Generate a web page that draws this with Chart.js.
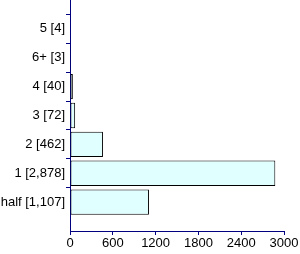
<!DOCTYPE html>
<html>
<head>
<meta charset="utf-8">
<script src="https://cdn.jsdelivr.net/npm/chart.js@4/dist/chart.umd.min.js"></script>
<style>
html,body{margin:0;padding:0;background:#fff;}
#wrap{width:300px;height:254px;}
</style>
</head>
<body>
<div id="wrap"><canvas id="c" width="300" height="254"></canvas></div>
<script>
const categories = ["5 [4]", "6+ [3]", "4 [40]", "3 [72]", "2 [462]", "1 [2,878]", "half [1,107]"];
const values = [4, 3, 40, 72, 462, 2878, 1107];
const xTicks = [0, 600, 1200, 1800, 2400, 3000];

// pad with empty slots so that categories sit one step in from each end
const labels = [""].concat(categories, [""]);
const data = [null].concat(values, [null]);

const navy = "#000080";
const font = { family: "'Liberation Sans', Arial, sans-serif", size: 13 };
new Chart(document.getElementById("c"), {
  type: "bar",
  data: {
    labels: labels,
    datasets: [{
      data: data,
      backgroundColor: "#E0FFFF",
      borderColor: "#000000",
      borderWidth: 1,
      borderSkipped: false,
      categoryPercentage: 1,
      barPercentage: 0.88
    }]
  },
  options: {
    indexAxis: "y",
    responsive: false,
    animation: false,
    devicePixelRatio: 1,
    layout: { padding: { left: 0, right: 16, top: 0, bottom: 0 } },
    plugins: { legend: { display: false }, tooltip: { enabled: false } },
    scales: {
      x: {
        type: "linear",
        min: 0,
        max: 3000,
        afterBuildTicks: (s) => { s.ticks = xTicks.map(v => ({ value: v })); },
        afterFit: (s) => { s.height = 23; s.paddingLeft = 0; s.paddingRight = 0; },
        border: { color: navy, width: 1 },
        grid: { drawOnChartArea: false, color: navy, tickLength: 4 },
        ticks: {
          color: "#000",
          padding: 1,
          maxRotation: 0,
          font: font,
          callback: (v) => String(v)
        }
      },
      y: {
        type: "category",
        offset: false,
        afterFit: (s) => { s.width = 70; s.paddingTop = 0; s.paddingBottom = 0; },
        border: { color: navy, width: 1 },
        grid: {
          drawOnChartArea: false,
          tickLength: 4,
          color: (ctx) => (ctx.tick && ctx.tick.label === "") ? "rgba(0,0,0,0)" : navy
        },
        ticks: {
          color: "#000",
          padding: 1,
          autoSkip: false,
          font: font
        }
      }
    }
  }
});
</script>
</body>
</html>
